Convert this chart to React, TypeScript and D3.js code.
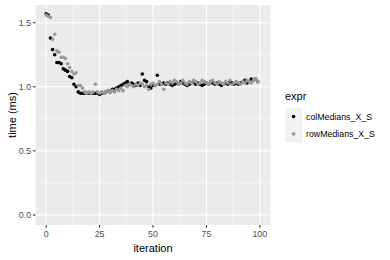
import React from "react";
import * as d3 from "d3";

const seriesNames = ["colMedians_X_S", "rowMedians_X_S"];
const seriesColors = ["#000000", "#999999"];

const colMedians = [
  1.57, 1.56, 1.38, 1.29, 1.25, 1.19, 1.19, 1.18, 1.14, 1.13,
  1.12, 1.08, 1.07, 1.02, 1.00, 0.96, 0.95, 0.95, 0.95, 0.95,
  0.95, 0.95, 0.95, 0.95, 0.95, 0.94, 0.95, 0.95, 0.96, 0.97,
  0.96, 0.98, 0.98, 0.99, 1.00, 1.01, 1.02, 1.03, 1.04, 1.02,
  1.03, 1.02, 1.01, 1.03, 1.01, 1.10, 1.05, 1.04, 1.00, 0.99,
  1.01, 1.01, 1.09, 1.02, 1.02, 1.03, 1.02, 1.03, 1.02, 1.01,
  1.02, 1.03, 1.02, 1.04, 1.03, 1.02, 1.01, 1.02, 1.03, 1.04,
  1.02, 1.03, 1.02, 1.01, 1.02, 1.03, 1.02, 1.04, 1.03, 1.02,
  1.03, 1.02, 1.01, 1.02, 1.03, 1.02, 1.04, 1.03, 1.02, 1.03,
  1.02, 1.03, 1.04, 1.05, 1.03, 1.04, 1.06, 1.05, 1.06, 1.04,
];

const rowMedians = [
  1.56, 1.55, 1.54, 1.37, 1.41, 1.28, 1.27, 1.23, 1.23, 1.22,
  1.18, 1.15, 1.12, 1.10, 1.11, 1.01, 1.01, 0.99, 0.96, 0.95,
  0.96, 0.95, 0.96, 1.02, 0.96, 0.95, 0.96, 0.95, 0.96, 0.97,
  0.96, 0.97, 0.96, 0.98, 0.97, 0.99, 0.97, 1.01, 1.00, 1.02,
  1.01, 1.00, 1.02, 1.01, 1.03, 1.02, 1.00, 1.01, 0.98, 1.02,
  1.03, 1.01, 1.02, 1.04, 1.02, 0.98, 1.03, 1.02, 1.04, 1.03,
  1.05, 1.04, 1.02, 1.03, 1.05, 1.03, 1.02, 1.04, 1.03, 1.05,
  1.04, 1.02, 1.03, 1.05, 1.04, 1.03, 1.02, 1.04, 1.05, 1.03,
  1.02, 1.04, 1.03, 1.02, 1.04, 1.03, 1.05, 1.02, 1.03, 1.04,
  1.03, 1.02, 1.04, 1.03, 1.05, 1.04, 1.03, 1.05, 1.06, 1.04,
];

const xTicks = [0, 25, 50, 75, 100];
const xMinor = [12.5, 37.5, 62.5, 87.5];
const yTicks = [0, 0.5, 1.0, 1.5];
const yMinor = [0.25, 0.75, 1.25];

const FONT = "'Liberation Sans', Arial, sans-serif";

export default function App() {
  const W = 390, H = 260;
  const pl = 35.5, pr = 270.5, pt = 5, pb = 225;
  const x = d3.scaleLinear().domain([-5, 105]).range([pl, pr]);
  const y = d3.scaleLinear().domain([-0.078, 1.638]).range([pb, pt]);
  const all = [colMedians, rowMedians];

  return (
    <svg width={W} height={H} style={{ position: "absolute", left: 0, top: 0 }}>
      <rect x={0} y={0} width={W} height={H} fill="#ffffff" />
      <rect x={pl} y={pt} width={pr - pl} height={pb - pt} fill="#EBEBEB" />
      {xMinor.map((t) => (
        <line key={"xm" + t} x1={x(t)} x2={x(t)} y1={pt} y2={pb} stroke="#fff" strokeWidth={0.53} />
      ))}
      {yMinor.map((t) => (
        <line key={"ym" + t} x1={pl} x2={pr} y1={y(t)} y2={y(t)} stroke="#fff" strokeWidth={0.53} />
      ))}
      {xTicks.map((t) => (
        <line key={"xg" + t} x1={x(t)} x2={x(t)} y1={pt} y2={pb} stroke="#fff" strokeWidth={1.07} />
      ))}
      {yTicks.map((t) => (
        <line key={"yg" + t} x1={pl} x2={pr} y1={y(t)} y2={y(t)} stroke="#fff" strokeWidth={1.07} />
      ))}
      {all.map((s, si) =>
        s.map((v, i) => (
          <circle key={si + "-" + i} cx={x(i)} cy={y(v)} r={1.8} fill={seriesColors[si]} />
        ))
      )}
      {xTicks.map((t) => (
        <g key={"xt" + t}>
          <line x1={x(t)} x2={x(t)} y1={pb} y2={pb + 2.7} stroke="#333" strokeWidth={1.07} />
          <text x={x(t)} y={pb + 12.3} textAnchor="middle" fontSize={8.8} fill="#4D4D4D" fontFamily={FONT}>
            {t}
          </text>
        </g>
      ))}
      {yTicks.map((t) => (
        <g key={"yt" + t}>
          <line x1={pl - 2.7} x2={pl} y1={y(t)} y2={y(t)} stroke="#333" strokeWidth={1.07} />
          <text x={pl - 4.4} y={y(t) + 3.1} textAnchor="end" fontSize={8.8} fill="#4D4D4D" fontFamily={FONT}>
            {d3.format(".1f")(t)}
          </text>
        </g>
      ))}
      <text x={(pl + pr) / 2} y={252} textAnchor="middle" fontSize={11} fill="#000" fontFamily={FONT}>
        iteration
      </text>
      <text
        transform={`translate(15.5, ${(pt + pb) / 2}) rotate(-90)`}
        textAnchor="middle"
        fontSize={11}
        fill="#000"
        fontFamily={FONT}
      >
        time (ms)
      </text>
      <text x={285} y={100} fontSize={11} fill="#000" fontFamily={FONT}>
        expr
      </text>
      {seriesNames.map((n, i) => (
        <g key={n}>
          <rect x={285} y={108 + i * 17.3} width={17.3} height={17.3} fill="#F2F2F2" />
          <circle cx={293.6} cy={116.6 + i * 17.3} r={1.8} fill={seriesColors[i]} />
          <text x={306} y={119.7 + i * 17.3} fontSize={8.8} fill="#000" fontFamily={FONT}>
            {n}
          </text>
        </g>
      ))}
    </svg>
  );
}
